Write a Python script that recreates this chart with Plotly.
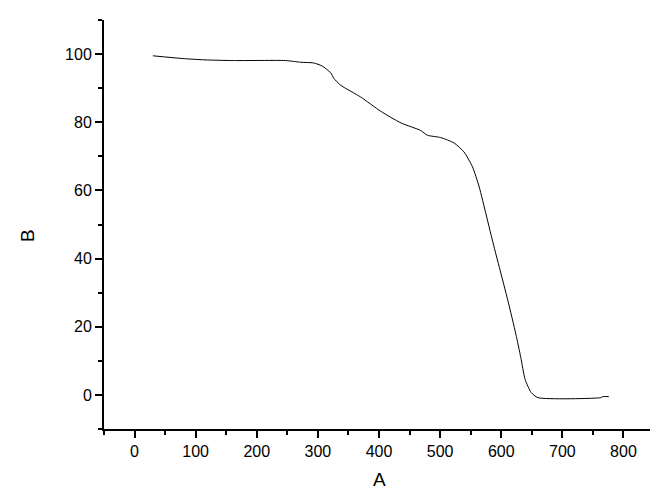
import plotly.graph_objects as go

# curve (A vs B)
a_vals = [30, 78, 115, 162, 247, 272, 293, 307, 321, 326, 337, 370, 403, 436,
          468, 479, 501, 523, 539, 553, 564, 575, 589, 597, 611, 624, 632, 639,
          649, 660, 763, 766, 776]
b_vals = [99.5, 98.7, 98.3, 98.1, 98.1, 97.6, 97.4, 96.5, 94.5, 92.9, 90.9, 87.4,
          83.2, 79.8, 77.6, 76.2, 75.5, 73.9, 71.3, 66.9, 61.0, 53.1, 42.9, 37.4,
          27.6, 17.8, 11.0, 4.6, 0.7, -0.8, -0.8, -0.5, -0.5]

x_ticks = [0, 100, 200, 300, 400, 500, 600, 700, 800]
y_ticks = [0, 20, 40, 60, 80, 100]

font_family = "Arial, Liberation Sans, sans-serif"
title_font = dict(family=font_family, size=19, color="black")

fig = go.Figure()
fig.add_trace(go.Scatter(x=a_vals, y=b_vals, mode="lines",
                         line=dict(color="black", width=1, shape="spline", smoothing=0.6),
                         showlegend=False))

axis_common = dict(showline=True, linecolor="black", linewidth=2, mirror=False,
                   showgrid=False, zeroline=False, ticks="outside", ticklen=7,
                   tickwidth=2, tickcolor="black", automargin=False,
                   tickfont=dict(family=font_family, size=16, color="black"),
                   minor=dict(ticks="outside", ticklen=4, tickwidth=2,
                              tickcolor="black", showgrid=False))

fig.update_xaxes(range=[-50, 850], tickvals=x_ticks, **axis_common)
fig.update_xaxes(minor_dtick=50, minor_tick0=0)
fig.update_yaxes(range=[-10, 110], tickvals=y_ticks, **axis_common)
fig.update_yaxes(minor_dtick=10, minor_tick0=0)

# axis titles placed as annotations (B sits a bit below the middle)
fig.add_annotation(text="A", xref="paper", yref="paper", x=0.5005, y=-0.123,
                   xanchor="center", yanchor="middle", showarrow=False, font=title_font)
fig.add_annotation(text="B", xref="paper", yref="paper", x=-0.138, y=0.472,
                   xanchor="center", yanchor="middle", showarrow=False,
                   textangle=-90, font=title_font)

# page body has an 8px margin, so the figure is 8px smaller each way
fig.update_layout(width=650, height=493, plot_bgcolor="white", paper_bgcolor="white",
                  margin=dict(l=96, r=4, t=12, b=72),
                  font=dict(family=font_family))

fig.write_html("out.html")
